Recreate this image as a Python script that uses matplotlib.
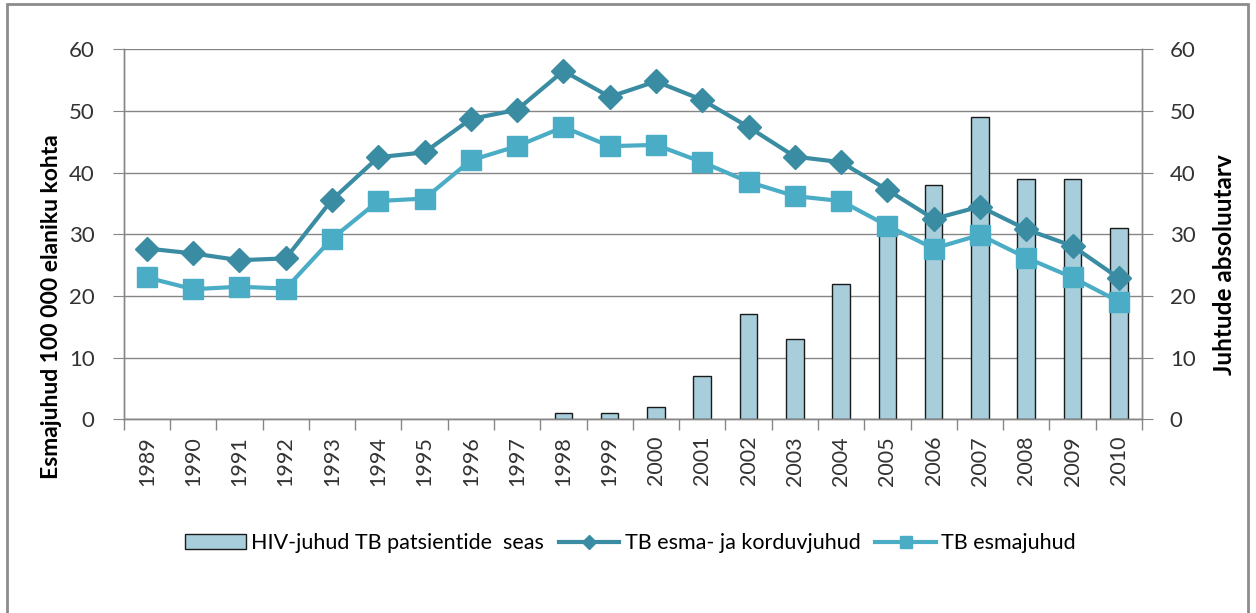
import numpy as np
import matplotlib
matplotlib.use("Agg")
import matplotlib.pyplot as plt
from matplotlib.patches import Rectangle, Patch
from matplotlib.lines import Line2D

plt.rcParams['font.family'] = ['Lato', 'DejaVu Sans']

# Data
years = [str(y) for y in range(1989, 2011)]
tb_all = [27.7, 26.9, 25.8, 26.1, 35.6, 42.5, 43.3, 48.7, 50.2, 56.5, 52.3, 54.8,
          51.8, 47.4, 42.6, 41.7, 37.2, 32.5, 34.5, 30.8, 28.1, 22.9]
tb_new = [23.0, 21.1, 21.5, 21.2, 29.3, 35.4, 35.8, 42.0, 44.3, 47.4, 44.3, 44.5,
          41.7, 38.5, 36.2, 35.4, 31.4, 27.7, 29.9, 26.2, 23.0, 19.1]
hiv_cases = [0, 0, 0, 0, 0, 0, 0, 0, 0, 1, 1, 2,
             7, 17, 13, 22, 32, 38, 49, 39, 39, 31]

dark_teal = "#3A8CA2"
light_teal = "#4BACC6"
bar_fill = "#A8CEDC"
grey = "#868686"
text_col = "#333333"

fig = plt.figure(figsize=(12.56, 6.13), dpi=100)
ax = fig.add_axes([0.0985, 0.316, 0.8107, 0.6035])
ax2 = ax.twinx()

x = np.arange(len(years))
hiv = np.array(hiv_cases, dtype=float)
has_bar = hiv > 0  # empty years have no bar at all

# bars on right axis, behind the lines
ax2.bar(x[has_bar], hiv[has_bar], width=0.38, color=bar_fill, edgecolor="#1a1a1a",
        linewidth=1.0, zorder=2)
ax2.set_ylim(0, 60)
ax2.set_yticks(range(0, 61, 10))
ax2.yaxis.grid(True, color=grey, linewidth=1.0)
ax2.set_axisbelow(True)

ax.plot(x, tb_all, color=dark_teal, lw=3, marker="D", markersize=12, zorder=3)
ax.plot(x, tb_new, color=light_teal, lw=3, marker="s", markersize=14, zorder=3)
ax.set_ylim(0, 60)
ax.set_yticks(range(0, 61, 10))
ax.set_xlim(-0.5, len(years) - 0.5)

ax.set_zorder(ax2.get_zorder() + 1)
ax.patch.set_visible(False)

# category axis: labels at centres, tick marks between categories
ax.set_xticks(x)
ax.set_xticklabels(years, rotation=90, fontsize=15.5, color=text_col)
ax.set_xticks(np.arange(-0.5, len(years)), minor=True)
ax.tick_params(axis="x", which="major", length=0, pad=12)
ax.tick_params(axis="x", which="minor", length=8, color=grey, width=1)
ax.tick_params(axis="y", length=8, color=grey, labelsize=16, labelcolor=text_col, pad=13)
ax2.tick_params(axis="y", length=8, color=grey, labelsize=16, labelcolor=text_col, pad=12)

for a in (ax, ax2):
    a.spines["top"].set_visible(False)
    for s in ("left", "right", "bottom"):
        a.spines[s].set_color(grey)
        a.spines[s].set_linewidth(1.0)

ax.set_ylabel("Esmajuhud 100 000 elaniku kohta", fontsize=16.5, fontweight="bold")
ax.yaxis.set_label_coords(-0.0606, 0.3035)
ax2.set_ylabel("Juhtude absoluutarv", fontsize=17.5, fontweight="bold")
ax2.yaxis.set_label_coords(1.070, 0.417)

# legend with small markers, like the reference
handles = [
    Patch(facecolor=bar_fill, edgecolor="#1a1a1a", linewidth=1.0),
    Line2D([], [], color=dark_teal, lw=3, marker="D", markersize=7),
    Line2D([], [], color=light_teal, lw=3, marker="s", markersize=8),
]
labels = ["HIV-juhud TB patsientide  seas", "TB esma- ja korduvjuhud", "TB esmajuhud"]
fig.legend(handles, labels, loc="center", bbox_to_anchor=(0.502, 0.114), ncol=3,
           frameon=False, fontsize=15.5, handlelength=2.8, columnspacing=0.7,
           handletextpad=0.25)

# outer chart frame
fig.add_artist(Rectangle((0.0056, -0.05), 0.988, 1.043, transform=fig.transFigure,
                         fill=False, edgecolor="#8c8c8c", linewidth=2))

fig.savefig("out.png", dpi=100)
